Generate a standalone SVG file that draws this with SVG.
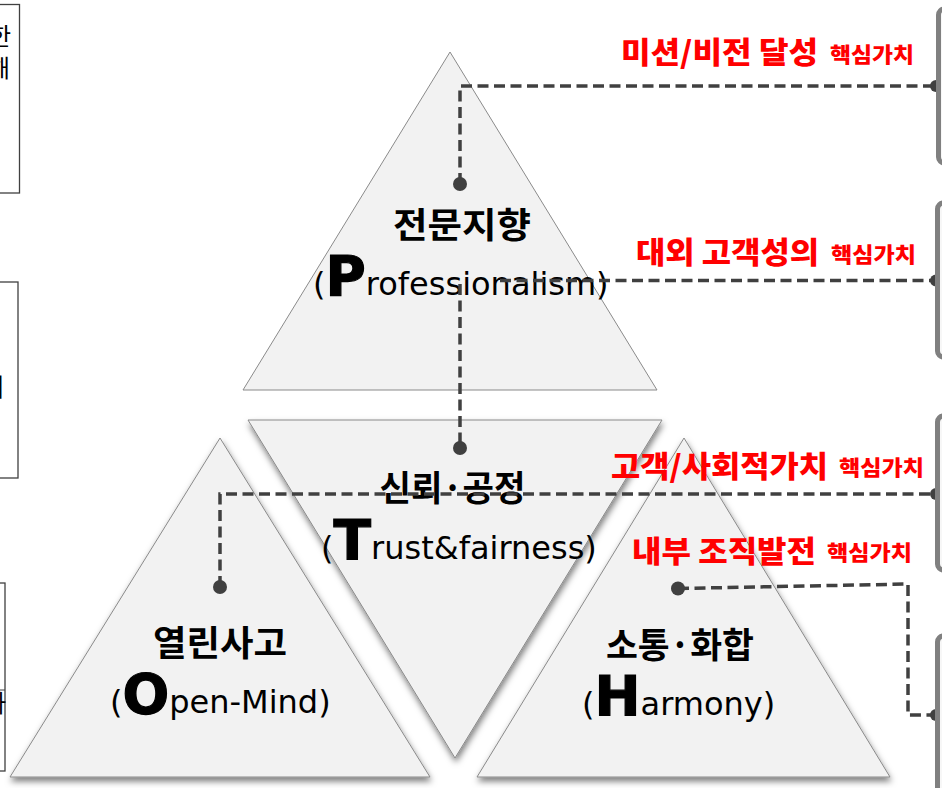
<svg xmlns="http://www.w3.org/2000/svg" width="942" height="788" viewBox="0 0 942 788">
<defs>
<filter id="sh" x="-15%" y="-10%" width="130%" height="125%">
<feDropShadow dx="1" dy="4" stdDeviation="3" flood-color="#000" flood-opacity="0.5"/>
</filter>
<style>
.tri{fill:#f2f2f2;stroke:#8a8a8a;stroke-width:1}
.ko{font-family:"Noto Sans CJK KR",sans-serif;font-weight:700;font-size:35px;fill:#000}
.en{font-family:"DejaVu Sans","Noto Sans CJK KR",sans-serif;font-size:32px;fill:#000}
.big{font-family:"DejaVu Sans",sans-serif;font-weight:900;font-size:55px;stroke:#000;stroke-width:1.2}
.red{font-family:"Noto Sans CJK KR",sans-serif;font-weight:900;font-size:30px;fill:#ff0000}
.reds{font-family:"Noto Sans CJK KR",sans-serif;font-weight:900;font-size:21px;fill:#ff0000}
.dash{fill:none;stroke:#404040;stroke-width:3.5;stroke-dasharray:11 5.5}
.dot{fill:#404040}
.bar{fill:#f7f7f7;stroke:#808080;stroke-width:5}
.box{fill:#fff;stroke:#404040;stroke-width:1.3}
.cut{font-family:"Noto Sans CJK KR",sans-serif;font-size:24px;fill:#000}
</style>
</defs>
<rect width="942" height="788" fill="#fff"/>

<g id="left-box-1">
<rect class="box" x="-40" y="4.5" width="59.5" height="188.5"/>
<text class="cut" x="11" y="45" text-anchor="end">한</text>
<text class="cut" x="10" y="77" text-anchor="end" font-size="27">해</text>
</g>
<g id="left-box-2">
<rect class="box" x="-40" y="282" width="58" height="196"/>
<text class="cut" x="4" y="396" text-anchor="end" font-weight="700" font-size="23">이</text>
</g>
<g id="left-box-3">
<rect class="box" x="-40" y="583" width="45" height="188"/>
<line x1="0" y1="690" x2="5" y2="690" stroke="#404040" stroke-width="1"/>
<text class="cut" x="6" y="712" text-anchor="end" font-size="22">하</text>
</g>

<g id="node-professionalism">
<polygon class="tri" points="450,52 243,390 657,390"/>
<text class="ko" x="462" y="238" text-anchor="middle" textLength="138" lengthAdjust="spacingAndGlyphs">전문지향</text>
<text class="en" x="313" y="295">(<tspan class="big">P</tspan>rofessionalism)</text>
</g>
<g id="node-trust">
<polygon class="tri" points="248,420 662,420 455,758" filter="url(#sh)"/>
<text class="ko" x="452.5" y="501" text-anchor="middle" textLength="146" lengthAdjust="spacingAndGlyphs">신뢰·공정</text>
<text class="en" x="321" y="559">(<tspan class="big">T</tspan>rust&amp;fairness)</text>
</g>
<g id="node-openmind">
<polygon class="tri" points="220,438 10,777 430,777" filter="url(#sh)"/>
<text class="ko" x="220" y="656" text-anchor="middle" textLength="134" lengthAdjust="spacingAndGlyphs">열린사고</text>
<text class="en" x="110" y="713">(<tspan class="big">O</tspan>pen-Mind)</text>
</g>
<g id="node-harmony">
<polygon class="tri" points="684,438 477,777 890,777" filter="url(#sh)"/>
<text class="ko" x="680" y="658" text-anchor="middle" textLength="148" lengthAdjust="spacingAndGlyphs">소통·화합</text>
<text class="en" x="582" y="715">(<tspan class="big">H</tspan>armony)</text>
</g>

<g id="connectors">
<path class="dash" d="M460,184 V86 H936"/>
<path class="dash" d="M500,280.5 H936"/>
<path class="dash" d="M460,284 V448"/>
<path class="dash" d="M220,587 V494 H936"/>
<path class="dash" d="M678,588.5 L908,584 V715 H936"/>
<circle class="dot" cx="460" cy="184" r="7"/>
<circle class="dot" cx="460" cy="448" r="7"/>
<circle class="dot" cx="220" cy="587" r="7"/>
<circle class="dot" cx="678" cy="588.5" r="7"/>
<circle class="dot" cx="936" cy="86" r="6"/>
<circle class="dot" cx="936" cy="280.5" r="6"/>
<circle class="dot" cx="936" cy="494" r="6"/>
<circle class="dot" cx="936" cy="715" r="6"/>
</g>

<g id="label-mission">
<text class="red" x="621" y="63" textLength="197" lengthAdjust="spacingAndGlyphs">미션/비전 달성</text>
<text class="reds" x="830" y="62" textLength="84" lengthAdjust="spacingAndGlyphs">핵심가치</text>
</g>
<g id="label-external">
<text class="red" x="636" y="263" textLength="183" lengthAdjust="spacingAndGlyphs">대외 고객성의</text>
<text class="reds" x="831" y="262" textLength="85" lengthAdjust="spacingAndGlyphs">핵심가치</text>
</g>
<g id="label-social">
<text class="red" x="611" y="477" textLength="217" lengthAdjust="spacingAndGlyphs">고객/사회적가치</text>
<text class="reds" x="839" y="475" textLength="85" lengthAdjust="spacingAndGlyphs">핵심가치</text>
</g>
<g id="label-internal">
<text class="red" x="632" y="562" textLength="184" lengthAdjust="spacingAndGlyphs">내부 조직발전</text>
<text class="reds" x="827" y="560" textLength="85" lengthAdjust="spacingAndGlyphs">핵심가치</text>
</g>

<g id="right-bar-1"><rect class="bar" x="938.5" y="9" width="30" height="154" rx="6" stroke-width="7"/></g>
<g id="right-bar-2"><rect class="bar" x="937.5" y="203" width="30" height="154" rx="6"/></g>
<g id="right-bar-3"><rect class="bar" x="937.5" y="416" width="30" height="154" rx="6"/></g>
<g id="right-bar-4"><rect class="bar" x="937.5" y="636" width="30" height="170" rx="6"/></g>
</svg>
